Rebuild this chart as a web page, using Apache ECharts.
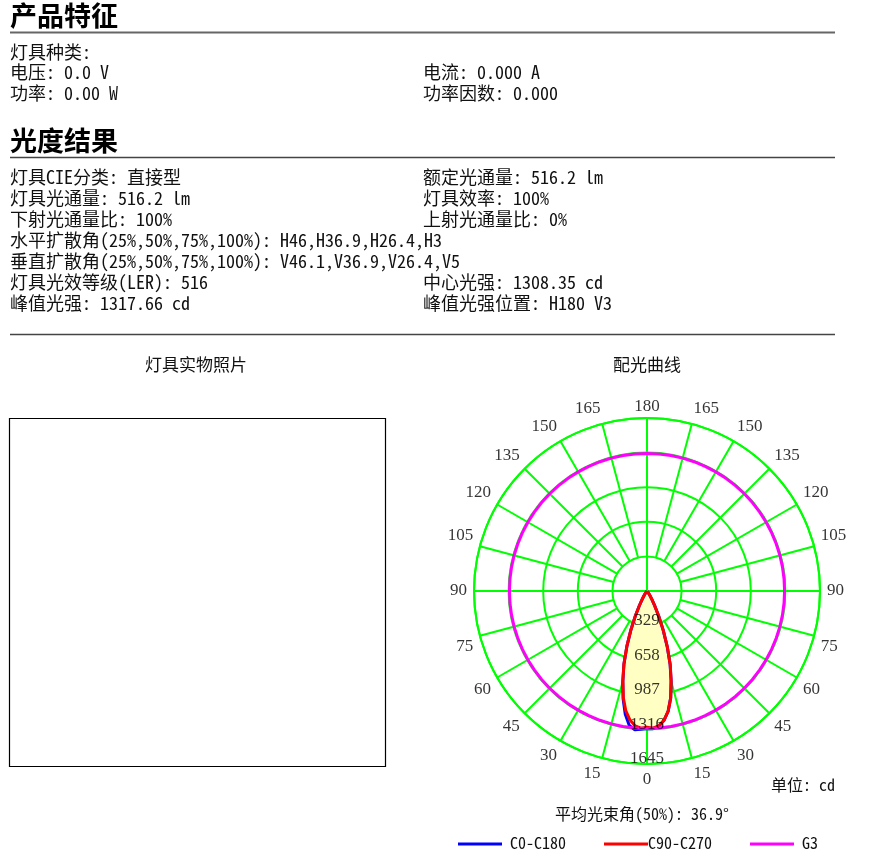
<!DOCTYPE html>
<html><head><meta charset="utf-8">
<script src="https://cdn.jsdelivr.net/npm/echarts@6/dist/echarts.min.js"></script>
<style>html,body{margin:0;padding:0;background:#fff}#c{width:883px;height:851px}</style>
</head><body><div id="c"></div>
<script>
// ---- photometric data (gamma angle from nadir, intensity in cd) ----
const gammaAngles = [0, 2.5, 5, 7.5, 10, 12.5, 15, 17.5, 20, 22.5, 25, 27.5, 30, 32.5, 35, 40, 45, 50, 60, 70, 80, 90];
const c0Values   = [1300, 1310, 1290, 1240, 1160, 1040, 885, 730, 560, 400, 262, 160, 95, 55, 30, 12, 6, 4, 2, 1, 0.5, 0];
const c180Values = [1308, 1317, 1325, 1290, 1190, 1050, 888, 728, 558, 398, 260, 158, 94, 54, 30, 12, 6, 4, 2, 1, 0.5, 0];
const c90Values  = [1295, 1305, 1288, 1240, 1160, 1042, 888, 735, 565, 405, 265, 162, 96, 56, 31, 12, 6, 4, 2, 1, 0.5, 0];
const c270Values = [1295, 1305, 1288, 1238, 1158, 1040, 886, 733, 563, 403, 264, 161, 96, 56, 31, 12, 6, 4, 2, 1, 0.5, 0];
const g3Radius = 1308;
const radiusTicks = [329, 658, 987, 1316, 1645];
const angleStep = 15;

// ---- text content ----
const title1 = '产品特征';
const title2 = '光度结果';
const sec1Left  = ['灯具种类:', '电压: 0.0 V', '功率: 0.00 W'];
const sec1Right = ['', '电流: 0.000 A', '功率因数: 0.000'];
const sec2Left  = ['灯具CIE分类: 直接型', '灯具光通量: 516.2 lm', '下射光通量比: 100%',
  '水平扩散角(25%,50%,75%,100%): H46,H36.9,H26.4,H3',
  '垂直扩散角(25%,50%,75%,100%): V46.1,V36.9,V26.4,V5',
  '灯具光效等级(LER): 516', '峰值光强: 1317.66 cd'];
const sec2Right = ['额定光通量: 516.2 lm', '灯具效率: 100%', '上射光通量比: 0%', '', '',
  '中心光强: 1308.35 cd', '峰值光强位置: H180 V3'];
const legendNames = ['C0-C180', 'C90-C270', 'G3'];
const legendColors = ['#0000ff', '#ff0000', '#ff00ff'];

const BODY_FONT = '"Noto Sans Mono CJK SC","Noto Sans CJK SC",sans-serif';
const graphics = [];
function txt(x, y, s, size, opts) {
  graphics.push({ type: 'text', x: x, y: y, silent: true,
    style: Object.assign({ text: s, fill: '#111', font: size + 'px ' + BODY_FONT,
      textAlign: 'left', textVerticalAlign: 'middle', align: 'left', verticalAlign: 'middle' }, opts || {}) });
}
function hline(x1, x2, y, color, w) {
  graphics.push({ type: 'line', silent: true, shape: { x1: x1, y1: y, x2: x2, y2: y }, style: { stroke: color, lineWidth: w } });
}
// titles
txt(10, 16, title1, 27, { font: 'bold 27px "Noto Sans CJK SC",sans-serif', fill: '#000' });
hline(10, 835, 32.5, '#666', 2);
sec1Left.forEach((s, i) => txt(10, 52 + i * 20.6, s, 18));
sec1Right.forEach((s, i) => { if (s) txt(423, 52 + i * 20.6, s, 18); });
txt(10, 141, title2, 27, { font: 'bold 27px "Noto Sans CJK SC",sans-serif', fill: '#000' });
hline(10, 835, 157.5, '#444', 1.5);
sec2Left.forEach((s, i) => txt(10, 177.5 + i * 21, s, 18));
sec2Right.forEach((s, i) => { if (s) txt(423, 177.5 + i * 21, s, 18); });
hline(10, 835, 334.5, '#444', 1.5);
// photo panel
txt(196, 365, '灯具实物照片', 17, { textAlign: 'center', align: 'center' });
graphics.push({ type: 'rect', silent: true, shape: { x: 9.5, y: 418.5, width: 376, height: 348 }, style: { fill: 'none', stroke: '#000', lineWidth: 1.2 } });
// chart texts
txt(647, 365, '配光曲线', 17, { textAlign: 'center', align: 'center' });
txt(835, 785, '单位: cd', 16, { textAlign: 'right', align: 'right' });
txt(642, 814, '平均光束角(50%): 36.9°', 16, { textAlign: 'center', align: 'center' });
// legend
const legendX = [458, 604, 750];
legendNames.forEach((n, i) => {
  graphics.push({ type: 'line', silent: true, shape: { x1: legendX[i], y1: 844, x2: legendX[i] + 44, y2: 844 }, style: { stroke: legendColors[i], lineWidth: 3 } });
  txt(legendX[i] + (i === 1 ? 44 : 52), 843, n, 16);
});

// ---- polar data ----
function curve(leftVals, rightVals) {
  const d = [];
  for (let i = gammaAngles.length - 1; i >= 0; i--) d.push([leftVals[i], gammaAngles[i]]);
  for (let i = 0; i < gammaAngles.length; i++) d.push([rightVals[i], 360 - gammaAngles[i]]);
  return d;
}
const blueData = curve(c180Values, c0Values);
const redData = curve(c270Values, c90Values);
const g3Angles = [];
for (let a = 0; a <= 360; a += 5) g3Angles.push(a);
const g3Data = g3Angles.map(a => [g3Radius, a]);

const GREEN = '#00ff00';
const POLAR_R = 173;
const rMax = radiusTicks[radiusTicks.length - 1];
const series = [];
// spokes from first ring to outer ring
for (let a = 0; a < 360; a += angleStep) {
  if (a % 90 === 0) continue;
  series.push({ type: 'line', coordinateSystem: 'polar', silent: true, symbol: 'none', z: 1,
    lineStyle: { color: GREEN, width: 2 }, data: [[radiusTicks[0], a], [rMax, a]] });
}
[[0, 180], [90, 270]].forEach(p => series.push({ type: 'line', coordinateSystem: 'polar', silent: true, symbol: 'none', z: 1,
  lineStyle: { color: GREEN, width: 2 }, data: [[rMax, p[0]], [0, p[0]], [rMax, p[1]]] }));
// fill
series.push({ type: 'line', coordinateSystem: 'polar', silent: true, symbol: 'none', z: 2,
  lineStyle: { width: 0, opacity: 0 }, areaStyle: { color: '#ffffc4', opacity: 1 }, data: redData });
series.push({ name: 'C0-C180', type: 'line', coordinateSystem: 'polar', symbol: 'none', z: 3,
  lineStyle: { color: '#0000ff', width: 3 }, data: blueData });
series.push({ name: 'C90-C270', type: 'line', coordinateSystem: 'polar', symbol: 'none', z: 4,
  lineStyle: { color: '#ff0000', width: 3 }, data: redData });
series.push({ name: 'G3', type: 'line', coordinateSystem: 'polar', symbol: 'none', z: 5,
  lineStyle: { color: '#ff00ff', width: 3 }, data: g3Data });
// radius labels
series.push({ type: 'scatter', coordinateSystem: 'polar', silent: true, symbolSize: 0, z: 6, clip: false,
  data: radiusTicks.map(r => [r, 0]),
  label: { show: true, position: 'inside', offset: [0, -5], formatter: p => String(p.value[0]),
    color: '#000', fontFamily: 'Liberation Serif', fontSize: 17 } });
// angle labels (anchored just outside the outer ring)
const labelR = rMax * (POLAR_R + 7) / POLAR_R;
const angleLabelData = [];
for (let a = 0; a < 360; a += angleStep) {
  const shown = a <= 180 ? a : 360 - a;
  const align = (a === 0 || a === 180) ? 'center' : (a < 180 ? 'right' : 'left');
  const vAlign = (a === 90 || a === 270) ? 'middle' : ((a < 90 || a > 270) ? 'top' : 'bottom');
  angleLabelData.push({ value: [labelR, a], label: { align: align, verticalAlign: vAlign,
    offset: a === 180 ? [0, 4] : [0, 0], formatter: String(shown) } });
}
series.push({ type: 'scatter', coordinateSystem: 'polar', silent: true, symbolSize: 0, z: 6, clip: false,
  data: angleLabelData,
  label: { show: true, position: 'inside', color: '#000', fontFamily: 'Liberation Serif', fontSize: 17 } });

const chart = echarts.init(document.getElementById('c'), null, { renderer: 'canvas' });
chart.setOption({
  animation: false,
  backgroundColor: '#fff',
  polar: { center: [647, 591], radius: POLAR_R },
  angleAxis: { type: 'value', min: 0, max: 360, interval: angleStep, startAngle: 270, clockwise: true,
    axisLine: { lineStyle: { color: GREEN, width: 2 } }, axisTick: { show: false }, splitLine: { show: false },
    axisLabel: { show: false } },
  radiusAxis: { type: 'value', min: 0, max: rMax, interval: radiusTicks[0],
    axisLine: { show: false }, axisTick: { show: false }, axisLabel: { show: false },
    splitLine: { show: true, lineStyle: { color: GREEN, width: 2 } } },
  series: series,
  graphic: { elements: graphics }
});
</script></body></html>
